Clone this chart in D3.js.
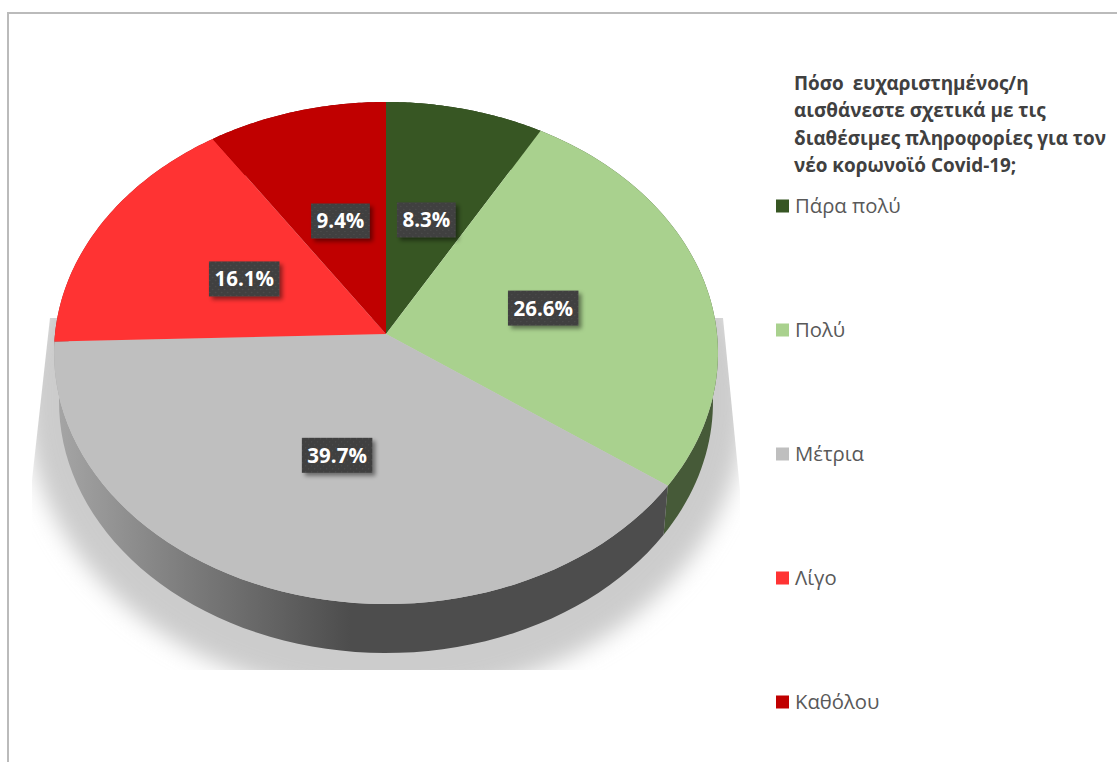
<!DOCTYPE html>
<html lang="el">
<head>
<meta charset="utf-8">
<style>
  html, body { margin: 0; padding: 0; background: #fff; overflow: hidden; }
  svg { display: block; }
  text { font-family: "Open Sans", sans-serif; }
</style>
</head>
<body>
<svg id="chart" width="1117" height="762"></svg>
<script src="https://cdn.jsdelivr.net/npm/d3@7"></script>
<script>
// Survey answers, share of respondents in percent
const categories = ["Πάρα πολύ", "Πολύ", "Μέτρια", "Λίγο", "Καθόλου"];
const shares = [8.3, 26.6, 39.7, 16.1, 9.4];
const faceColors = ["#375623", "#a9d18e", "#bfbfbf", "#ff3333", "#c00000"];
const wallColors = ["#2a3f1b", "#465a38", "url(#greyWall)", "#a02020", "#800000"];
const titleLines = [
  "Πόσο ευχαριστημένος/η",
  "αισθάνεστε σχετικά με τις",
  "διαθέσιμες πληροφορίες για τον",
  "νέο κορωνοϊό Covid-19;"
];

const svg = d3.select("#chart");
const defs = svg.append("defs");

// Perspective view of the disc: the hub sits above the centre of the visible ellipse
const hub = { x: 386, y: 334 };
const radiusX = 331, radiusY = 249.6, tilt = 0.0757;
const wallDepth = 49, wallShrink = 0.985;

function rimPoint(angle, r = 1) {
  const u = r * Math.sin(angle), v = -r * Math.cos(angle);
  const d = 1 - tilt * v;
  return [hub.x + radiusX * u / d, hub.y + radiusY * v / d];
}
function lowerRimPoint(angle) {
  const [x, y] = rimPoint(angle);
  return [hub.x + (x - hub.x) * wallShrink, y + wallDepth];
}
const arcSamples = (a0, a1) => d3.range(0, 61).map(i => a0 + (a1 - a0) * i / 60);
const line = d3.line();

const pie = d3.pie().sort(null).value(d => d);
const slices = pie(shares);

// Gradients, filters and the label texture
const greyWall = defs.append("linearGradient")
  .attr("id", "greyWall").attr("gradientUnits", "userSpaceOnUse")
  .attr("x1", 54).attr("x2", 350).attr("y1", 0).attr("y2", 0);
greyWall.append("stop").attr("offset", 0).attr("stop-color", "#a6a6a6");
greyWall.append("stop").attr("offset", 0.45).attr("stop-color", "#7c7c7c");
greyWall.append("stop").attr("offset", 1).attr("stop-color", "#4d4d4d");

defs.append("filter").attr("id", "softShadow")
  .attr("x", "-10%").attr("y", "-10%").attr("width", "120%").attr("height", "120%")
  .append("feGaussianBlur").attr("stdDeviation", 11);

const labelShadow = defs.append("filter").attr("id", "labelShadow")
  .attr("x", "-20%").attr("y", "-30%").attr("width", "150%").attr("height", "170%");
labelShadow.append("feDropShadow")
  .attr("dx", 3).attr("dy", 3).attr("stdDeviation", 2.2)
  .attr("flood-color", "#000").attr("flood-opacity", 0.45);

const dots = defs.append("pattern").attr("id", "labelDots")
  .attr("patternUnits", "userSpaceOnUse").attr("width", 6).attr("height", 6);
dots.append("rect").attr("width", 6).attr("height", 6).attr("fill", "#404040");
dots.append("circle").attr("cx", 1.5).attr("cy", 1.5).attr("r", 0.7).attr("fill", "#4e4e4e");
dots.append("circle").attr("cx", 4.5).attr("cy", 4.5).attr("r", 0.7).attr("fill", "#4e4e4e");

defs.append("clipPath").attr("id", "shadowClip")
  .append("polygon")
  .attr("points", "50,318 723,318 740,490 740,670 32,670 32,480");

// Frame of the chart area
svg.append("path")
  .attr("d", "M8,762V13H1117")
  .attr("fill", "none").attr("stroke", "#bbbbbb").attr("stroke-width", 2);

// Cast shadow beneath the disc
svg.append("g").attr("clip-path", "url(#shadowClip)")
  .append("ellipse")
  .attr("cx", hub.x).attr("cy", 400)
  .attr("rx", 360).attr("ry", 298)
  .attr("fill", "#cccccc")
  .attr("filter", "url(#softShadow)");

// Side wall of each slice, painted before the top faces
svg.append("g").selectAll("path").data(slices).join("path")
  .attr("d", d => {
    const angles = arcSamples(d.startAngle, d.endAngle);
    return line([...angles.map(a => rimPoint(a)), ...angles.reverse().map(lowerRimPoint)]) + "Z";
  })
  .attr("fill", (d, i) => wallColors[i]);

// Top faces
svg.append("g").selectAll("path").data(slices).join("path")
  .attr("d", d => line([[hub.x, hub.y], ...arcSamples(d.startAngle, d.endAngle).map(a => rimPoint(a))]) + "Z")
  .attr("fill", (d, i) => faceColors[i]);

// Value labels on dark boxes
const labels = svg.append("g").selectAll("g").data(slices).join("g")
  .attr("transform", d => {
    const [x, y] = rimPoint((d.startAngle + d.endAngle) / 2, 0.49);
    return `translate(${x},${y})`;
  });
labels.append("rect")
  .attr("x", -30).attr("y", -17.5).attr("width", 60).attr("height", 35)
  .attr("fill", "url(#labelDots)").attr("filter", "url(#labelShadow)");
labels.append("text")
  .attr("text-anchor", "middle").attr("y", 7.5)
  .attr("font-size", 20.5).attr("font-weight", 700).attr("fill", "#fff")
  .text((d, i) => shares[i].toFixed(1) + "%");
labels.each(function () {
  const g = d3.select(this);
  const w = g.select("text").node().getComputedTextLength() + 11;
  g.select("rect").attr("x", -w / 2).attr("width", w);
});

// Legend heading
svg.append("g").selectAll("text").data(titleLines).join("text")
  .attr("x", 794)
  .attr("y", (d, i) => 90 + i * 27.3)
  .attr("font-size", 18.9).attr("font-weight", 700).attr("fill", "#404040")
  .attr("word-spacing", (d, i) => i === 0 ? 4 : 0)
  .text(d => d);

// Legend entries
const legendY = d3.scalePoint().domain(categories).range([206, 702]);
const legend = svg.append("g").selectAll("g").data(categories).join("g")
  .attr("transform", d => `translate(776,${legendY(d)})`);
legend.append("rect")
  .attr("x", 0).attr("y", -6.5).attr("width", 13).attr("height", 13)
  .attr("fill", (d, i) => faceColors[i]);
legend.append("text")
  .attr("x", 19).attr("y", 7)
  .attr("font-size", 20.3).attr("fill", "#595959")
  .text(d => d);
</script>
</body>
</html>
